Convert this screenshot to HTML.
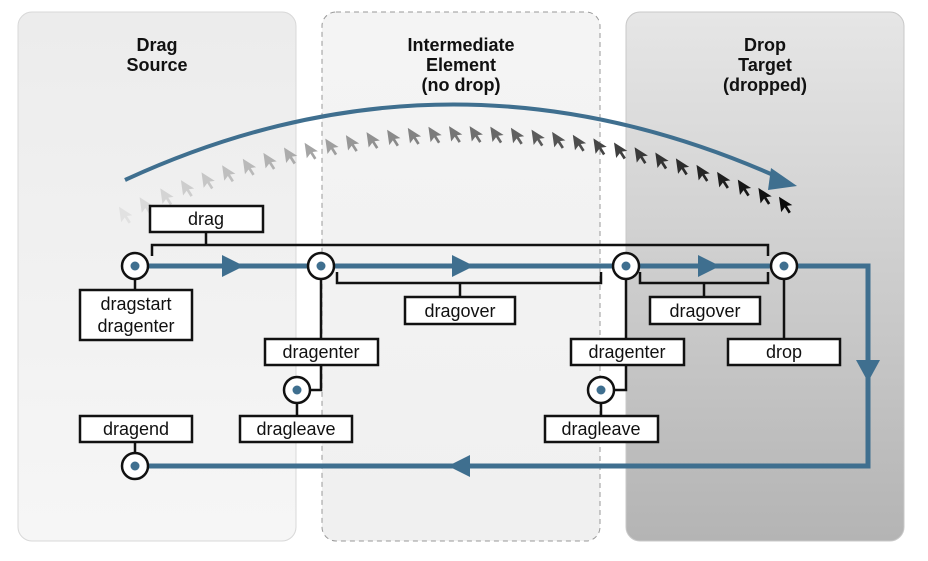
<!DOCTYPE html>
<html><head><style>
html,body{margin:0;padding:0;background:#fff;width:928px;height:561px;overflow:hidden}
svg{display:block}
text{font-family:"Liberation Sans",Arial,sans-serif}
</style></head><body>
<svg id="s" width="928" height="561" viewBox="0 0 928 561" xmlns="http://www.w3.org/2000/svg">
<defs>
<linearGradient id="gl" x1="0" y1="0" x2="0" y2="1"><stop offset="0" stop-color="#ececec"/><stop offset="1" stop-color="#f6f6f6"/></linearGradient>
<linearGradient id="gm" x1="0" y1="0" x2="0" y2="1"><stop offset="0" stop-color="#f4f4f4"/><stop offset="1" stop-color="#f0f0f0"/></linearGradient>
<linearGradient id="gr" x1="0" y1="0" x2="0" y2="1"><stop offset="0" stop-color="#e6e6e6"/><stop offset="1" stop-color="#b4b4b4"/></linearGradient>
<path id="cur" d="M0 0 L0 13 L3.5 9.5 L6 15 L8 14 L5.5 8.5 L10 8.5 Z"/>
</defs>
<rect x="18" y="12" width="278" height="529" rx="14" fill="url(#gl)" stroke="#d8d8d8"/>
<rect x="322" y="12" width="278" height="529" rx="14" fill="url(#gm)" stroke="#999" stroke-dasharray="5,4"/>
<rect x="626" y="12" width="278" height="529" rx="14" fill="url(#gr)" stroke="#c8c8c8"/>
<g font-weight="bold" font-size="18" text-anchor="middle" fill="#111">
<text x="157" y="51">Drag</text><text x="157" y="71">Source</text>
<text x="461" y="51">Intermediate</text><text x="461" y="71">Element</text><text x="461" y="91">(no drop)</text>
<text x="765" y="51">Drop</text><text x="765" y="71">Target</text><text x="765" y="91">(dropped)</text>
</g>
<g id="cursors"></g>
<path d="M125 180 Q450 30 780 178" fill="none" stroke="#3f6f8f" stroke-width="4"/>
<polygon points="771,168 797,186 768,190" fill="#3f6f8f"/>
<g fill="none" stroke="#3f6f8f" stroke-width="5">
<polyline points="148,266 868,266 868,466 148,466"/>
</g>
<g fill="#3f6f8f">
<polygon points="222,255 244,266 222,277"/>
<polygon points="452,255 474,266 452,277"/>
<polygon points="698,255 720,266 698,277"/>
<polygon points="856,360 880,360 868,382"/>
<polygon points="470,455 448,466 470,477"/>
</g>
<g fill="none" stroke="#111" stroke-width="2.5">
<polyline points="152,256 152,245 768,245 768,256"/>
<line x1="206" y1="232" x2="206" y2="245"/>
<polyline points="337,272 337,283 601,283 601,272"/>
<line x1="460" y1="283" x2="460" y2="297"/>
<polyline points="640,272 640,283 768,283 768,272"/>
<line x1="704" y1="283" x2="704" y2="297"/>
<line x1="135" y1="279" x2="135" y2="290"/>
<line x1="321" y1="279" x2="321" y2="339"/>
<polyline points="321,365 321,390 310,390"/>
<line x1="297" y1="403" x2="297" y2="416"/>
<line x1="626" y1="279" x2="626" y2="339"/>
<polyline points="626,365 626,390 614,390"/>
<line x1="601" y1="403" x2="601" y2="416"/>
<line x1="784" y1="279" x2="784" y2="339"/>
<line x1="135" y1="442" x2="135" y2="453"/>
</g>
<g fill="#fff" stroke="#111" stroke-width="2.5">
<rect x="150" y="206" width="113" height="26"/>
<rect x="80" y="290" width="112" height="50"/>
<rect x="405" y="297" width="110" height="27"/>
<rect x="650" y="297" width="110" height="27"/>
<rect x="265" y="339" width="113" height="26"/>
<rect x="571" y="339" width="113" height="26"/>
<rect x="728" y="339" width="112" height="26"/>
<rect x="240" y="416" width="112" height="26"/>
<rect x="545" y="416" width="113" height="26"/>
<rect x="80" y="416" width="112" height="26"/>
<circle cx="135" cy="266" r="13"/><circle cx="321" cy="266" r="13"/>
<circle cx="626" cy="266" r="13"/><circle cx="784" cy="266" r="13"/>
<circle cx="297" cy="390" r="13"/><circle cx="601" cy="390" r="13"/>
<circle cx="135" cy="466" r="13"/>
</g>
<g fill="#3f6f8f">
<circle cx="135" cy="266" r="4.5"/><circle cx="321" cy="266" r="4.5"/>
<circle cx="626" cy="266" r="4.5"/><circle cx="784" cy="266" r="4.5"/>
<circle cx="297" cy="390" r="4.5"/><circle cx="601" cy="390" r="4.5"/>
<circle cx="135" cy="466" r="4.5"/>
</g>
<g font-size="18" text-anchor="middle" fill="#111">
<text x="206" y="225">drag</text>
<text x="136" y="310">dragstart</text><text x="136" y="332">dragenter</text>
<text x="460" y="317">dragover</text>
<text x="705" y="317">dragover</text>
<text x="321" y="358">dragenter</text>
<text x="627" y="358">dragenter</text>
<text x="784" y="358">drop</text>
<text x="296" y="435">dragleave</text>
<text x="601" y="435">dragleave</text>
<text x="136" y="435">dragend</text>
</g>
</svg>
<script>
(function(){var g=document.getElementById('cursors'),n=33,s='';
for(var i=0;i<n;i++){var t=i/(n-1),x=119+t*660,y=132+0.000695*(x-460)*(x-460)-6;
var c=Math.round(225-t*215);var col='rgb('+c+','+c+','+c+')';
s+='<use href="#cur" xlink:href="#cur" transform="translate('+x.toFixed(1)+','+y.toFixed(1)+') rotate(-8) scale(1.2)" fill="'+col+'"/>';}
g.innerHTML=s;})();
</script>
</body></html>
